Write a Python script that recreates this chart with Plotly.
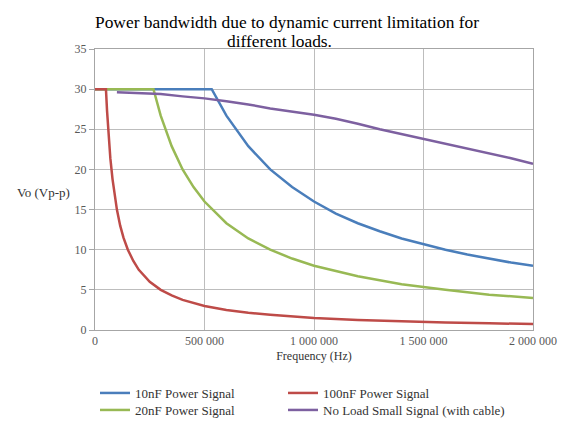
import plotly.graph_objects as go

# ---- data ----
freq_10nF = [0, 533000, 600000, 700000, 800000, 900000, 1000000, 1100000, 1200000,
             1300000, 1400000, 1500000, 1600000, 1700000, 1800000, 1900000, 2000000]
vo_10nF = [30, 30, 26.7, 22.9, 20.0, 17.8, 16.0, 14.5, 13.3,
           12.3, 11.4, 10.7, 10.0, 9.4, 8.9, 8.4, 8.0]

freq_100nF = [0, 50000, 55000, 60000, 70000, 80000, 90000, 100000, 115000, 130000, 150000,
              175000, 200000, 250000, 300000, 350000, 400000, 500000, 600000, 700000,
              800000, 1000000, 1200000, 1400000, 1600000, 1800000, 2000000]
vo_100nF = [30, 30, 27.3, 25.0, 21.4, 18.8, 16.7, 15.0, 13.0, 11.5, 10.0,
            8.6, 7.5, 6.0, 5.0, 4.3, 3.75, 3.0, 2.5, 2.15,
            1.9, 1.5, 1.25, 1.07, 0.94, 0.83, 0.75]

freq_20nF = [0, 267000, 300000, 350000, 400000, 450000, 500000, 600000, 700000, 800000,
             900000, 1000000, 1200000, 1400000, 1600000, 1800000, 2000000]
vo_20nF = [30, 30, 26.7, 22.9, 20.0, 17.8, 16.0, 13.3, 11.4, 10.0,
           8.9, 8.0, 6.7, 5.7, 5.0, 4.4, 4.0]

freq_noload = [100000, 200000, 300000, 400000, 500000, 600000, 700000, 800000, 900000,
               1000000, 1100000, 1200000, 1300000, 1400000, 1500000, 1600000, 1700000,
               1800000, 1900000, 2000000]
vo_noload = [29.6, 29.5, 29.4, 29.1, 28.85, 28.5, 28.1, 27.6, 27.2,
             26.8, 26.3, 25.7, 25.0, 24.4, 23.8, 23.2, 22.6,
             22.0, 21.4, 20.7]

x_ticks = [0, 500000, 1000000, 1500000, 2000000]
y_ticks = [0, 5, 10, 15, 20, 25, 30, 35]

title_lines = ["Power bandwidth due to dynamic current limitation for", "different loads."]

SERIF = "Liberation Serif, Times New Roman, serif"
W, H = 563, 414
ML, MR, MT, MB = 87, 38, 41, 92
PW, PH = W - ML - MR, H - MT - MB

fig = go.Figure()
fig.add_trace(go.Scatter(x=freq_10nF, y=vo_10nF, mode="lines", name="10nF Power Signal",
                         line=dict(color="#4a7ebb", width=2.5), legend="legend", showlegend=True))
fig.add_trace(go.Scatter(x=freq_20nF, y=vo_20nF, mode="lines", name="20nF Power Signal",
                         line=dict(color="#98b954", width=2.5), legend="legend2", showlegend=True))
fig.add_trace(go.Scatter(x=freq_100nF, y=vo_100nF, mode="lines", name="100nF Power Signal",
                         line=dict(color="#be4b48", width=2.5), legend="legend3", showlegend=True))
fig.add_trace(go.Scatter(x=freq_noload, y=vo_noload, mode="lines",
                         name="No Load Small Signal (with cable)",
                         line=dict(color="#7d60a0", width=2.5), legend="legend4", showlegend=True))

axis_common = dict(showgrid=True, gridcolor="#bdbdbd", gridwidth=1,
                   showline=True, linecolor="#a6a6a6", linewidth=1, mirror=True,
                   zeroline=False, automargin=False,
                   tickfont=dict(family=SERIF, size=12, color="#595959"))

def leg(xpix, ypix):
    return dict(x=xpix / W, y=1 - ypix / H, xref="container", yref="container",
                xanchor="left", yanchor="middle", orientation="v",
                font=dict(family=SERIF, size=13, color="#333333"),
                bgcolor="rgba(0,0,0,0)", borderwidth=0, itemwidth=30)

def px_ann(text, xpix, ypix, size, color, anchor="center"):
    return dict(text=text, xref="paper", yref="paper",
                x=(xpix - ML) / PW, y=(H - MB - ypix) / PH,
                xanchor=anchor, yanchor="middle", showarrow=False,
                font=dict(family=SERIF, size=size, color=color))

fig.update_layout(
    width=W, height=H,
    showlegend=True,
    paper_bgcolor="white", plot_bgcolor="white",
    margin=dict(l=ML, r=MR, t=MT, b=MB, autoexpand=False),
    separators=". ",
    xaxis=dict(range=[0, 2000000], tickvals=x_ticks, tickformat=",d", ticks="",
               title=dict(text="Frequency (Hz)", font=dict(family=SERIF, size=12, color="#333333"),
                          standoff=4),
               **axis_common),
    yaxis=dict(range=[0, 35], tickvals=y_ticks, ticks="outside", ticklen=5,
               tickcolor="#a6a6a6", **axis_common),
    legend=leg(87, 385),
    legend2=leg(87, 402),
    legend3=leg(275, 385),
    legend4=leg(275, 402),
    annotations=[
        px_ann(title_lines[0], 279, 14, 17.4, "#000000"),
        px_ann(title_lines[1], 271, 33, 17.4, "#000000"),
        px_ann("Vo (Vp-p)", 35, 184, 13, "#333333"),
    ],
)

fig.write_html("out.html")
